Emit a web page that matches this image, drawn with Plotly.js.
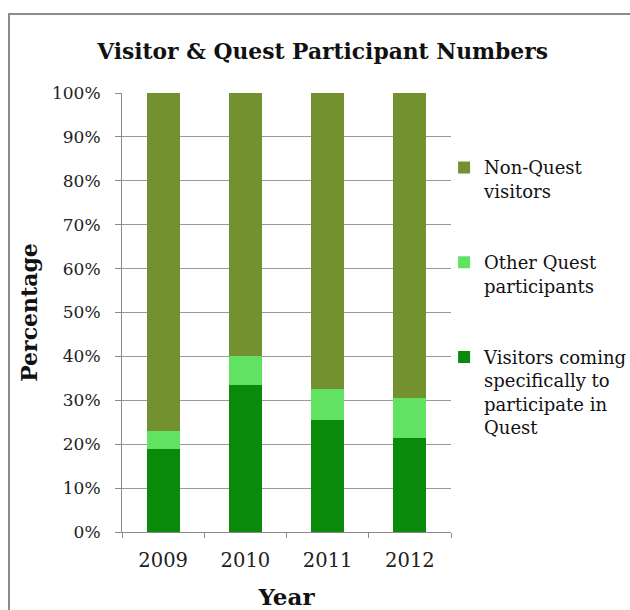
<!DOCTYPE html>
<html>
<head>
<meta charset="utf-8">
<script src="https://cdn.plot.ly/plotly-3.0.1.min.js"></script>
<style>
  html, body { margin: 0; padding: 0; background: #ffffff; }
  #wrap { position: relative; width: 630px; height: 610px; overflow: hidden; }
  #chart { width: 630px; height: 610px; }
  #frame { position: absolute; left: 8px; top: 13px; width: 640px; height: 640px;
           border: 2px solid #8c8c8c; pointer-events: none; box-sizing: border-box; }
</style>
</head>
<body>
<div id="wrap">
  <div id="chart"></div>
  <div id="frame"></div>
</div>
<script>
// Data (percent of visitors)
var years = ['2009', '2010', '2011', '2012'];
var visitorsForQuest = [19, 33.5, 25.5, 21.5];
var otherQuest = [4, 6.5, 7, 9];
var nonQuest = [77, 60, 67.5, 69.5];

var seriesNames = [
  'Visitors coming<br>specifically to<br>participate in<br>Quest',
  'Other Quest<br>participants',
  'Non-Quest<br>visitors'
];
var seriesColors = ['#0a8a0a', '#62e262', '#73912f'];
var seriesValues = [visitorsForQuest, otherQuest, nonQuest];
var legendRanks = [3, 2, 1];

var serif = 'DejaVu Serif, Liberation Serif, serif';

var traces = seriesValues.map(function (vals, i) {
  return {
    type: 'bar',
    x: years,
    y: vals,
    name: seriesNames[i],
    legendgroup: 'g' + i,
    legendrank: legendRanks[i],
    marker: { color: seriesColors[i], line: { width: 0 } },
    hoverinfo: 'x+y+name'
  };
});

var layout = {
  width: 630,
  height: 610,
  paper_bgcolor: 'rgba(0,0,0,0)',
  plot_bgcolor: '#ffffff',
  barmode: 'stack',
  bargap: 0.6,
  margin: { l: 122, r: 179, t: 93, b: 78, autoexpand: false },
  title: {
    text: 'Visitor & Quest Participant Numbers',
    font: { family: serif, size: 21.8, color: '#111111', weight: 'bold' },
    x: 0.512, xref: 'container', xanchor: 'center',
    y: 0.915, yref: 'container', yanchor: 'middle'
  },
  xaxis: {
    type: 'category',
    showline: true, linecolor: '#8c8c8c', linewidth: 1,
    ticks: 'outside', tickson: 'boundaries', ticklen: 5, tickcolor: '#8c8c8c',
    ticklabelstandoff: 11,
    tickfont: { family: serif, size: 19.5, color: '#222222' },
    title: { text: 'Year', font: { family: serif, size: 23, color: '#111111', weight: 'bold' }, standoff: 17 },
    showgrid: false, zeroline: false
  },
  yaxis: {
    range: [0, 100], dtick: 10, ticksuffix: '%',
    showline: true, linecolor: '#8c8c8c', linewidth: 1,
    ticks: 'outside', ticklen: 6, tickcolor: '#8c8c8c',
    ticklabelstandoff: 11,
    tickfont: { family: serif, size: 17, color: '#222222' },
    showgrid: true, gridcolor: '#9a9a9a', gridwidth: 1,
    zeroline: false,
    title: { text: 'Percentage', font: { family: serif, size: 22, color: '#111111', weight: 'bold' }, standoff: 8 }
  },
  showlegend: true,
  legend: {
    x: 0.979, xanchor: 'left', y: 0.872, yanchor: 'top',
    traceorder: 'grouped',
    tracegroupgap: 45,
    valign: 'top',
    font: { family: serif, size: 18, color: '#111111' },
    bgcolor: 'rgba(0,0,0,0)', itemwidth: 30
  }
};

Plotly.newPlot('chart', traces, layout, { displayModeBar: false, staticPlot: true });
</script>
</body>
</html>
